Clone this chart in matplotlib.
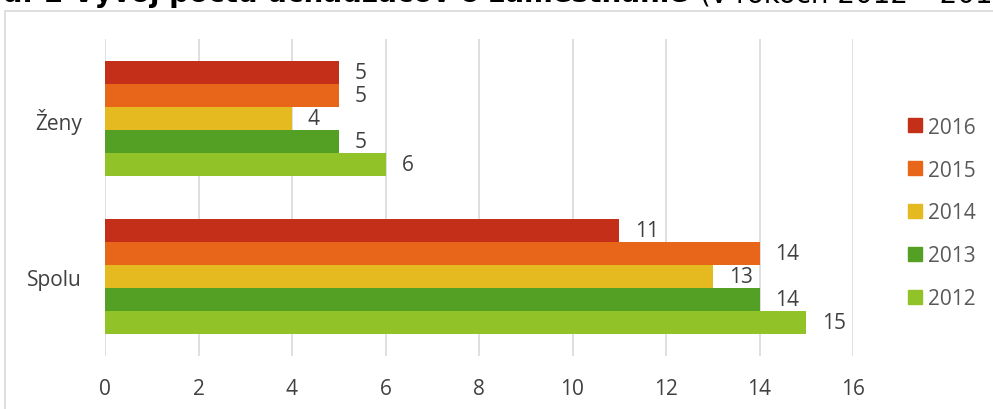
import numpy as np
import matplotlib.pyplot as plt
from matplotlib.lines import Line2D
from matplotlib.patches import Rectangle

plt.rcParams['font.family'] = ['Open Sans', 'DejaVu Sans']

# Data
categories = ['Spolu', 'Ženy']
years = ['2016', '2015', '2014', '2013', '2012']
values = {
    '2016': [11, 5],
    '2015': [14, 5],
    '2014': [13, 4],
    '2013': [14, 5],
    '2012': [15, 6],
}
colors = {
    '2016': '#C42F1A',
    '2015': '#E8661A',
    '2014': '#E5B920',
    '2013': '#54A024',
    '2012': '#91C328',
}
xticks = [0, 2, 4, 6, 8, 10, 12, 14, 16]

text_col = '#404040'
grid_col = '#D9D9D9'

fig = plt.figure(figsize=(9.93, 4.10), dpi=100)
ax = fig.add_axes([105 / 993, 1 - 357 / 410, 748 / 993, 317 / 410])

h = 0.1457
y = np.arange(len(categories))
for i, yr in enumerate(years):
    off = (2 - i) * h
    bars = ax.barh(y + off, values[yr], height=h, color=colors[yr], zorder=3)
    ax.bar_label(bars, padding=11.5, fontsize=15, color=text_col)

ax.set_xlim(0, 16)
ax.set_ylim(-0.5, 1.5)
ax.set_xticks(xticks)
ax.set_yticks(y)
ax.set_yticklabels(categories)
ax.tick_params(axis='both', length=0, labelsize=15, labelcolor=text_col)
ax.tick_params(axis='x', pad=15.5)
ax.tick_params(axis='y', pad=16.5)
ax.grid(axis='x', color=grid_col, lw=1.2, zorder=0)
for s in ax.spines.values():
    s.set_visible(False)

# Legend
handles = [Line2D([], [], marker='s', linestyle='', markersize=9.4,
                  color=colors[yr]) for yr in years]
leg = fig.legend(handles, years, loc='center left',
                 bbox_to_anchor=(908 / 993, 1 - 214 / 410),
                 frameon=False, fontsize=15, handlelength=0.65,
                 handletextpad=0.3, labelspacing=1.05,
                 borderpad=0, borderaxespad=0)
for t in leg.get_texts():
    t.set_color('#595959')

# Chart frame
fig.patches.append(Rectangle((4.5 / 993, -0.1), 1.0, (410 - 12) / 410 + 0.1,
                             transform=fig.transFigure, fill=False,
                             edgecolor=grid_col, lw=1.2))

# Title (cut off at the top, as in the source)
fig.text(688 / 993, 1 - 2 / 410, 'Graf 2 Vývoj počtu uchádzačov o zamestnanie',
         ha='right', va='baseline', fontsize=20, fontweight='bold',
         family='DejaVu Sans', color='black')
fig.text(700 / 993, 1 - 2 / 410, '(v rokoch 2012 – 2016)',
         ha='left', va='baseline', fontsize=20, family='DejaVu Sans',
         color='black')

fig.savefig('out.png', dpi=100)
